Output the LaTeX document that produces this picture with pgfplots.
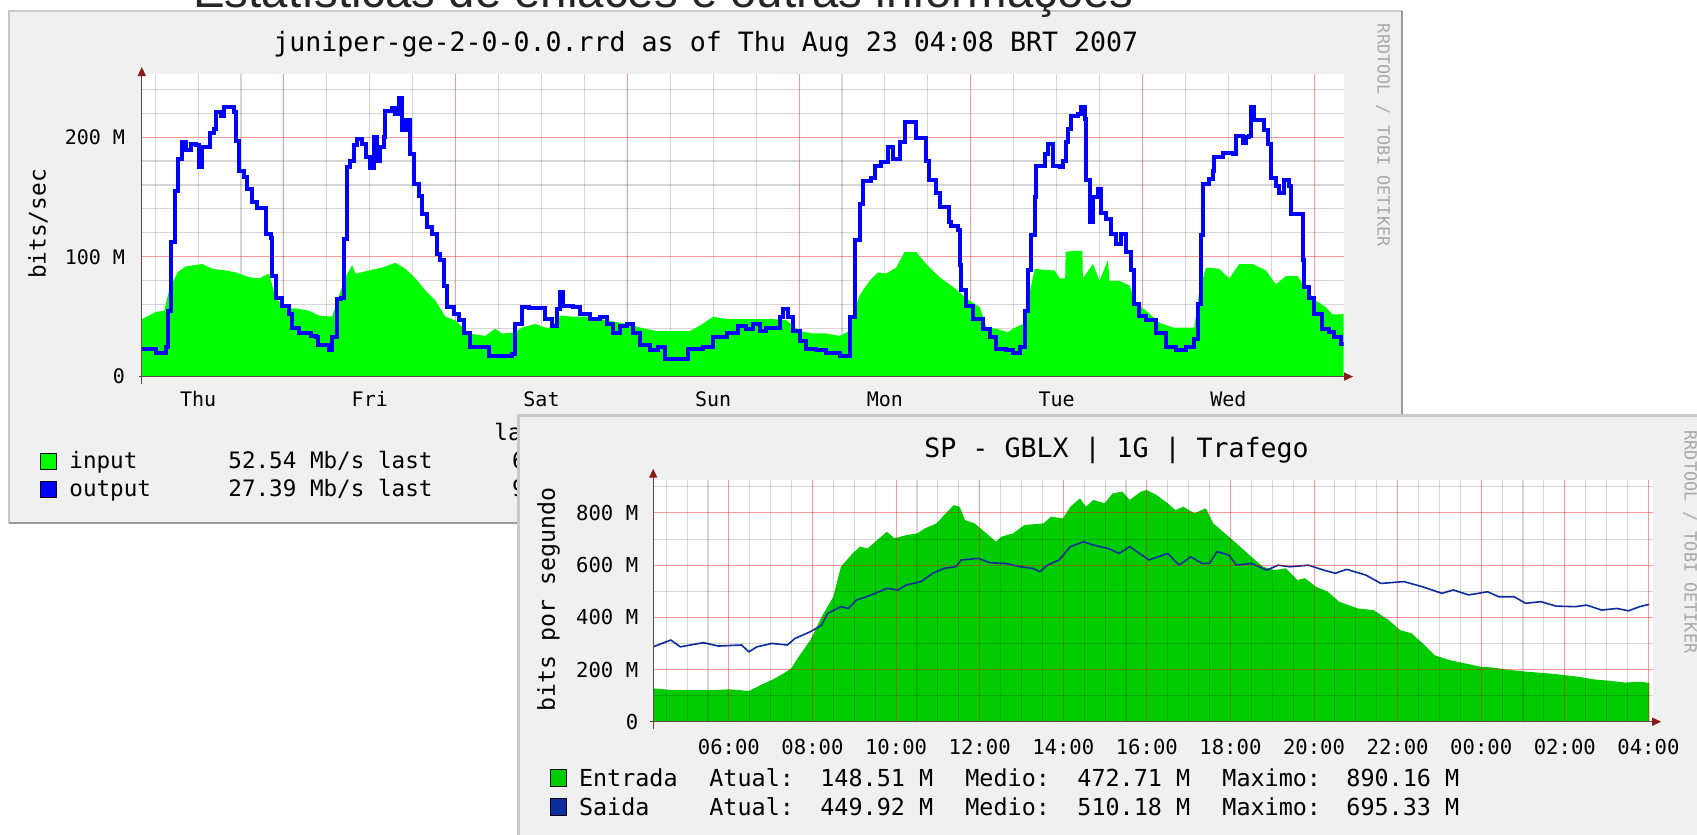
\documentclass[border=0pt]{standalone}
\usepackage{pgfplots}
\pgfplotsset{compat=1.18}
\usepackage{fontspec}
\setmainfont{DejaVu Sans Mono}
\newfontfamily\mono{DejaVu Sans Mono}
\newfontfamily\arialf{Liberation Sans}
\usetikzlibrary{arrows.meta}
\newcommand\fs[1]{\fontsize{#1}{#1}\selectfont}
\definecolor{panel}{HTML}{F0F0F0}
\definecolor{shadeA}{HTML}{C8C8C8}
\definecolor{shadeB}{HTML}{9A9A9A}
\definecolor{topgreen}{HTML}{00FF00}
\definecolor{topblue}{HTML}{0000FF}
\definecolor{botgreen}{HTML}{00CC00}
\definecolor{botblue}{HTML}{0A2E9E}
\definecolor{axiscol}{HTML}{5C4848}
\definecolor{arrowcol}{HTML}{8B1A1A}
\definecolor{wm}{HTML}{A8A8A8}
\pgfplotsset{rrd/.style={
  scale only axis, anchor=south west,
  axis background/.style={fill=white},
  axis line style={draw=none},
  tick pos=left, major tick length=0pt, minor tick length=0pt,
  major grid style={red, opacity=0.4, line width=0.5pt},
  minor grid style={black, opacity=0.16, line width=0.55pt},
  yticklabel style={anchor=east, inner sep=0pt},
  xticklabel style={anchor=base, inner sep=0pt},
}}
\begin{document}
\begin{tikzpicture}
\useasboundingbox (0,0) rectangle (848.5pt,-417.5pt);
\clip (0,0) rectangle (848.5pt,-417.5pt);
\fill[white] (0,0) rectangle (848.5pt,-417.5pt);
% ---------------- top panel
\fill[panel] (4.5pt,-5.5pt) rectangle (701pt,-261.5pt);
\draw[shadeA, line width=1.2pt] (4.5pt,-261.5pt) -- (4.5pt,-5.5pt) -- (701pt,-5.5pt);
\draw[shadeB, line width=1.4pt] (701pt,-5.5pt) -- (701pt,-261.5pt) -- (4.5pt,-261.5pt);
\node[anchor=base, font=\mono\fs{13.3}, inner sep=0] at (352.9pt,-25.5pt) {juniper-ge-2-0-0.0.rrd as of Thu Aug 23 04:08 BRT 2007};
\node[rotate=90, font=\mono\fs{11.4}, inner sep=0] at (19pt,-112pt) {bits/sec};
\node[rotate=-90, font=\mono\fs{8.4}, text=wm, inner sep=0] at (691.5pt,-67.6pt) {RRDTOOL / TOBI OETIKER};
\begin{axis}[rrd, name=top, at={(70.9pt,-188.3pt)},
  width=600.95pt, height=151.5pt,
  xmin=4.13, xmax=172.13, ymin=0, ymax=253,
  xtick={12,36,60,84,108,132,156}, xticklabels={Thu,Fri,Sat,Sun,Mon,Tue,Wed},
  minor xtick={6,18,30,42,54,66,78,90,102,114,126,138,150,162,12,36,60,84,108,132,156},
  extra x ticks={24,48,72,96,120,144,168}, extra x tick labels={},
  extra x tick style={grid=major},
  xmajorgrids=false, xminorgrids=true, ymajorgrids=true, yminorgrids=true,
  ytick={0,100,200}, yticklabels={0,100 M,200 M},
  minor ytick={20,40,60,80,120,140,160,180,220,240},
  ticklabel style={font=\mono\fs{10}},
  xticklabel style={yshift=-15pt},
  yticklabel style={xshift=-8.2pt},
]
\addplot[fill=topgreen, draw=none] coordinates {
(4.13,48)(6.09,54)(7.26,55)(7.95,72)(9.12,87)(10.28,92)(12.60,94)(14.00,90)(15.86,88.6)(17.26,87)(19.12,83)(20.51,82)(21.91,86)(22.84,66)(24.23,57)(25.63,57)(27.49,55)(28.88,51)(30.74,50)(31.44,63)(32.60,83)(33.53,93)(34.00,86)(35.86,88.6)(37.72,91)(39.58,95)(40.98,90)(42.37,82)(43.77,72)(45.16,63.5)(46.56,50)(47.95,47)(49.81,36)(52.14,34)(53.53,40)(54.47,36)(56.33,37)(57.26,41)(59.12,44)(60.51,41)(61.44,41)(62.60,51)(64.47,50)(66.79,50)(69.12,47)(71.91,44)(73.77,41)(76.10,38)(78.42,38)(80.74,38)(82.14,42.6)(84.00,50)(85.86,48)(87.72,48)(90.05,48)(92.37,48)(94.23,47)(96.09,38)(97.95,36)(99.81,36)(101.67,34)(103.07,38)(103.77,55)(104.47,68)(105.86,80)(107.02,87)(108.19,86)(109.58,91)(110.74,104)(112.37,104)(113.77,94)(115.63,83)(117.02,77)(117.95,73)(119.40,65)(121.26,58)(122.19,41)(123.58,40)(125.21,37)(125.91,40)(127.30,44)(128.00,63.5)(128.93,90)(130.56,89)(131.72,88.6)(132.42,82)(133.20,82)(133.26,104)(134.28,105)(135.60,105)(135.67,82)(137.07,94)(138.00,80)(139.16,97)(139.40,80)(140.79,80)(142.19,76)(143.12,61)(144.51,55)(146.37,45)(148.23,41)(151.26,41)(151.95,72)(152.88,91)(154.74,90)(156.14,82)(157.53,94)(159.40,94)(161.26,88.6)(162.65,77)(164.05,84)(165.67,84)(166.84,73)(168.23,63.5)(169.63,58)(170.56,52)(171.72,52)(172.13,52.5)
} \closedcycle;
\addplot[const plot, draw=topblue, line width=2pt] coordinates {
(4.13,23)(6.09,20)(7.49,24.5)(7.86,55)(8.19,112)(8.79,155)(9.12,182)(9.81,196)(10.28,189)(10.98,194)(11.67,193)(12.14,175)(12.60,192)(13.30,192)(13.63,203)(14.23,207)(14.56,221)(15.16,218)(15.63,225)(16.56,225)(17.02,221)(17.26,197)(17.72,172)(18.42,167)(18.88,157)(19.58,146)(20.28,141)(21.21,141)(21.44,119)(22.14,116)(22.37,84)(22.84,66)(23.77,59)(24.70,52)(25.16,41)(26.09,36)(27.72,34)(28.42,33)(28.79,26)(29.58,26)(30.28,22)(30.74,33)(31.44,65)(31.91,66)(32.37,115)(32.84,175)(33.30,180)(33.77,193)(34.23,198)(34.93,194)(35.40,183)(36.09,174)(36.56,200)(37.02,180)(37.49,192)(37.95,200)(38.19,222)(39.12,224)(39.58,219)(40.05,233)(40.51,206)(41.07,214)(41.67,186)(42.14,161)(42.84,151)(43.30,136)(44.00,125)(44.70,119)(45.40,102)(45.86,97)(46.33,76)(46.79,58)(47.72,52)(48.42,47)(49.12,36)(50.05,24.5)(51.21,24.5)(52.60,17.5)(54.47,17.5)(55.86,19)(56.33,44)(57.26,58)(58.19,57)(59.81,57)(60.51,48)(61.44,42.6)(62.14,56.5)(62.60,70.5)(63.07,59)(64.47,58)(65.40,52)(66.79,48)(68.19,50)(69.12,44)(70.05,36)(70.98,42.6)(71.91,44)(72.84,36)(73.77,26)(75.16,22)(76.33,24.5)(77.26,15)(79.35,15)(80.51,23)(82.60,24.5)(84.00,33)(85.86,36)(87.49,42.6)(88.65,40)(89.58,44)(90.51,38)(91.44,41)(92.37,41)(93.30,50)(93.77,56.5)(94.47,50)(95.16,38)(96.09,30)(97.02,23)(98.42,22)(99.81,20)(101.67,17.5)(102.60,17.5)(103.16,50)(103.77,114)(104.47,144)(104.93,163)(106.09,166)(106.56,176)(107.49,179)(108.42,192)(109.12,182)(110.05,196)(110.74,212.5)(111.91,212.5)(112.37,199)(113.30,199)(113.77,180)(114.23,164)(115.16,153)(115.63,141.5)(117.02,129)(117.30,126)(118.23,122)(118.47,93)(118.70,72)(119.40,59)(120.33,48)(121.72,40)(122.65,33)(123.58,23)(124.98,22)(125.91,20)(126.84,24.5)(127.53,55)(128.00,89)(128.47,118)(128.93,150)(129.16,176)(130.09,176)(130.33,186)(130.79,194)(131.49,176)(132.42,175)(132.88,180)(133.35,196)(133.58,207)(134.05,218)(134.98,219)(135.44,225)(135.91,215)(136.14,164)(136.60,129)(137.07,150)(137.77,157)(138.23,137)(138.93,132)(139.63,119)(140.33,111)(141.02,119)(141.72,104)(142.42,89)(142.88,61)(143.58,51)(144.51,47)(145.91,36)(147.30,24.5)(148.70,22)(150.09,24.5)(151.26,31)(151.72,61)(152.19,118)(152.51,161)(153.35,165)(153.81,172)(154.05,183)(155.21,187)(156.60,186)(157.07,201)(158.00,195)(158.47,200)(158.93,201)(159.16,225)(159.63,214)(160.56,214)(161.02,205.6)(161.49,194)(161.95,166)(162.65,159)(163.12,153)(163.81,164)(164.51,159)(164.74,136)(165.91,136)(166.37,97)(166.60,75)(167.30,66)(168.00,52)(169.16,40)(170.09,37)(170.79,33)(171.72,27)(172.13,27)
};
\end{axis}
\draw[axiscol, line width=0.6pt, -{Triangle[length=4.5pt, width=4pt, color=arrowcol]}] ([xshift=-1.5pt]top.south west) -- ([xshift=4.7pt]top.south east);
\draw[axiscol, line width=0.6pt, -{Triangle[length=4.5pt, width=4pt, color=arrowcol]}] ([yshift=-3.5pt]top.south west) -- ([yshift=3.3pt]top.north west);
% top legend
\filldraw[fill=topgreen, draw=black, line width=0.5pt] (20pt,-226.5pt) rectangle (28pt,-234.5pt);
\filldraw[fill=topblue, draw=black, line width=0.5pt] (20pt,-240.5pt) rectangle (28pt,-248.5pt);
\node[anchor=base west, font=\mono\fs{11.3}, inner sep=0] at (34.5pt,-234.2pt) {input};
\node[anchor=base west, font=\mono\fs{11.3}, inner sep=0] at (34.5pt,-248.3pt) {output};
\node[anchor=base west, font=\mono\fs{11.3}, inner sep=0] at (114pt,-234.2pt) {52.54 Mb/s last};
\node[anchor=base west, font=\mono\fs{11.3}, inner sep=0] at (114pt,-248.3pt) {27.39 Mb/s last};
\node[anchor=base west, font=\mono\fs{11.3}, inner sep=0] at (247pt,-220pt) {last 7 days};
\node[anchor=base west, font=\mono\fs{11.3}, inner sep=0] at (255.9pt,-234.2pt) {63.95 Mb/s avg};
\node[anchor=base west, font=\mono\fs{11.3}, inner sep=0] at (255.9pt,-248.3pt) {97.20 Mb/s avg};
% ---------------- bottom panel
\fill[panel] (259.35pt,-207.5pt) rectangle (860pt,-430pt);
\draw[shadeA, line width=1.5pt] (259.35pt,-430pt) -- (259.35pt,-207.5pt) -- (860pt,-207.5pt);
\node[anchor=base, font=\mono\fs{13.3}, inner sep=0] at (558.3pt,-228.8pt) {SP - GBLX | 1G | Trafego};
\node[rotate=90, font=\mono\fs{11.6}, inner sep=0] at (274.3pt,-299.7pt) {bits por segundo};
\node[rotate=-90, font=\mono\fs{8.4}, text=wm, inner sep=0] at (845pt,-271pt) {RRDTOOL / TOBI OETIKER};
\begin{axis}[rrd, name=bot, axis on top, at={(326.6pt,-360.85pt)},
  width=499.7pt, height=120.8pt,
  xmin=4.19, xmax=28.1, ymin=0, ymax=926,
  xtick={6,8,10,12,14,16,18,20,22,24,26,28},
  xticklabels={06:00,08:00,10:00,12:00,14:00,16:00,18:00,20:00,22:00,00:00,02:00,04:00},
  minor xtick={4.5,5,5.5,6.5,7,7.5,8.5,9,9.5,10.5,11,11.5,12.5,13,13.5,14.5,15,15.5,16.5,17,17.5,18.5,19,19.5,20.5,21,21.5,22.5,23,23.5,24.5,25,25.5,26.5,27,27.5},
  ytick={0,200,400,600,800}, yticklabels={0,200 M,400 M,600 M,800 M},
  minor ytick={100,300,500,700,900},
  grid=both,
  ticklabel style={font=\mono\fs{10.3}},
  xticklabel style={yshift=-16.3pt},
  yticklabel style={xshift=-7.3pt},
]
\addplot[fill=botgreen, draw=none] coordinates {
(4.19,128)(4.66,121)(5.57,121)(6.03,124)(6.48,117.5)(6.76,140.5)(7.03,160)(7.31,185)(7.49,204)(7.67,249)(7.95,313)(8.22,402)(8.50,479)(8.68,594)(8.96,645)(9.14,671)(9.32,664)(9.60,703)(9.78,728)(9.96,703)(10.24,715)(10.51,722)(10.69,741)(10.97,760)(11.15,792)(11.38,830)(11.52,824)(11.65,773)(11.88,760)(12.16,722)(12.39,690)(12.52,709)(12.80,722)(13.07,754)(13.53,760)(13.71,786)(13.99,779)(14.17,824)(14.40,856)(14.54,824)(14.72,850)(14.99,837)(15.18,875)(15.41,882)(15.59,850)(15.86,882)(16.00,888)(16.23,869)(16.50,837)(16.68,811)(16.87,824)(17.14,799)(17.41,818)(17.59,760)(17.96,709)(18.23,671)(18.50,632)(18.78,594)(19.05,581)(19.32,588)(19.60,543)(19.78,550)(20.05,517)(20.33,498)(20.60,460)(21.05,434)(21.42,428)(21.78,390)(22.06,351)(22.33,339)(22.60,300)(22.88,255)(23.24,236)(23.60,224)(23.97,211)(24.24,208)(24.70,198)(25.06,192)(25.61,185)(25.97,179)(26.34,172)(26.70,162)(27.07,157)(27.43,150)(27.79,153)(28.02,149)
} \closedcycle;
\addplot[draw=botblue, line width=0.8pt] coordinates {
(4.19,287)(4.61,313)(4.84,287)(5.39,303)(5.75,290)(6.30,294)(6.48,268)(6.67,287)(7.03,300)(7.40,294)(7.58,319)(7.95,345)(8.22,370)(8.36,415)(8.68,441)(8.86,434)(9.05,466)(9.41,486)(9.78,511)(10.05,505)(10.24,524)(10.60,537)(10.88,569)(11.15,588)(11.43,594)(11.56,620)(11.97,626)(12.25,609)(12.61,607)(12.98,594)(13.26,588)(13.44,575)(13.62,600)(13.90,620)(14.17,671)(14.49,690)(14.72,677)(15.08,664)(15.34,645)(15.59,671)(16.05,620)(16.50,645)(16.77,600)(17.05,632)(17.32,607)(17.50,607)(17.68,652)(17.96,639)(18.14,600)(18.50,607)(18.87,581)(19.14,600)(19.42,594)(19.87,600)(20.23,581)(20.51,569)(20.78,584)(21.24,562)(21.60,530)(22.15,537)(22.60,517)(23.06,492)(23.33,505)(23.70,486)(24.15,498)(24.42,479)(24.79,479)(25.06,454)(25.43,460)(25.79,443)(26.25,441)(26.52,447)(26.88,428)(27.25,434)(27.52,425)(27.79,441)(28.02,450)
};
\end{axis}
\draw[axiscol, line width=0.6pt, -{Triangle[length=4.5pt, width=4pt, color=arrowcol]}] ([xshift=-1.5pt]bot.south west) -- ([xshift=4.3pt]bot.south east);
\draw[axiscol, line width=0.6pt, -{Triangle[length=4.5pt, width=4pt, color=arrowcol]}] ([yshift=-3.5pt]bot.south west) -- ([yshift=5.7pt]bot.north west);
% bottom legend
\filldraw[fill=botgreen, draw=black, line width=0.5pt] (275pt,-384.7pt) rectangle (283pt,-393.3pt);
\filldraw[fill=botblue, draw=black, line width=0.5pt] (275pt,-399.2pt) rectangle (283pt,-407.8pt);
\begin{scope}[every node/.style={anchor=base west, font=\mono\fs{11.7}, inner sep=0}]
\node at (289.3pt,-393pt) {Entrada};
\node at (354.5pt,-393pt) {Atual:};
\node at (410pt,-393pt) {148.51 M};
\node at (482.5pt,-393pt) {Medio:};
\node at (538.5pt,-393pt) {472.71 M};
\node at (611pt,-393pt) {Maximo:};
\node at (673pt,-393pt) {890.16 M};
\node at (289.3pt,-407.5pt) {Saida};
\node at (354.5pt,-407.5pt) {Atual:};
\node at (410pt,-407.5pt) {449.92 M};
\node at (482.5pt,-407.5pt) {Medio:};
\node at (538.5pt,-407.5pt) {510.18 M};
\node at (611pt,-407.5pt) {Maximo:};
\node at (673pt,-407.5pt) {695.33 M};
\end{scope}
% page heading (cut at the top edge, as in the reference)
\node[anchor=base, font=\arialf\fs{23.7}, text=black!85, inner sep=0] at (331.75pt,-3.5pt) {Estatísticas de enlaces e outras informações};
\end{tikzpicture}
\end{document}
